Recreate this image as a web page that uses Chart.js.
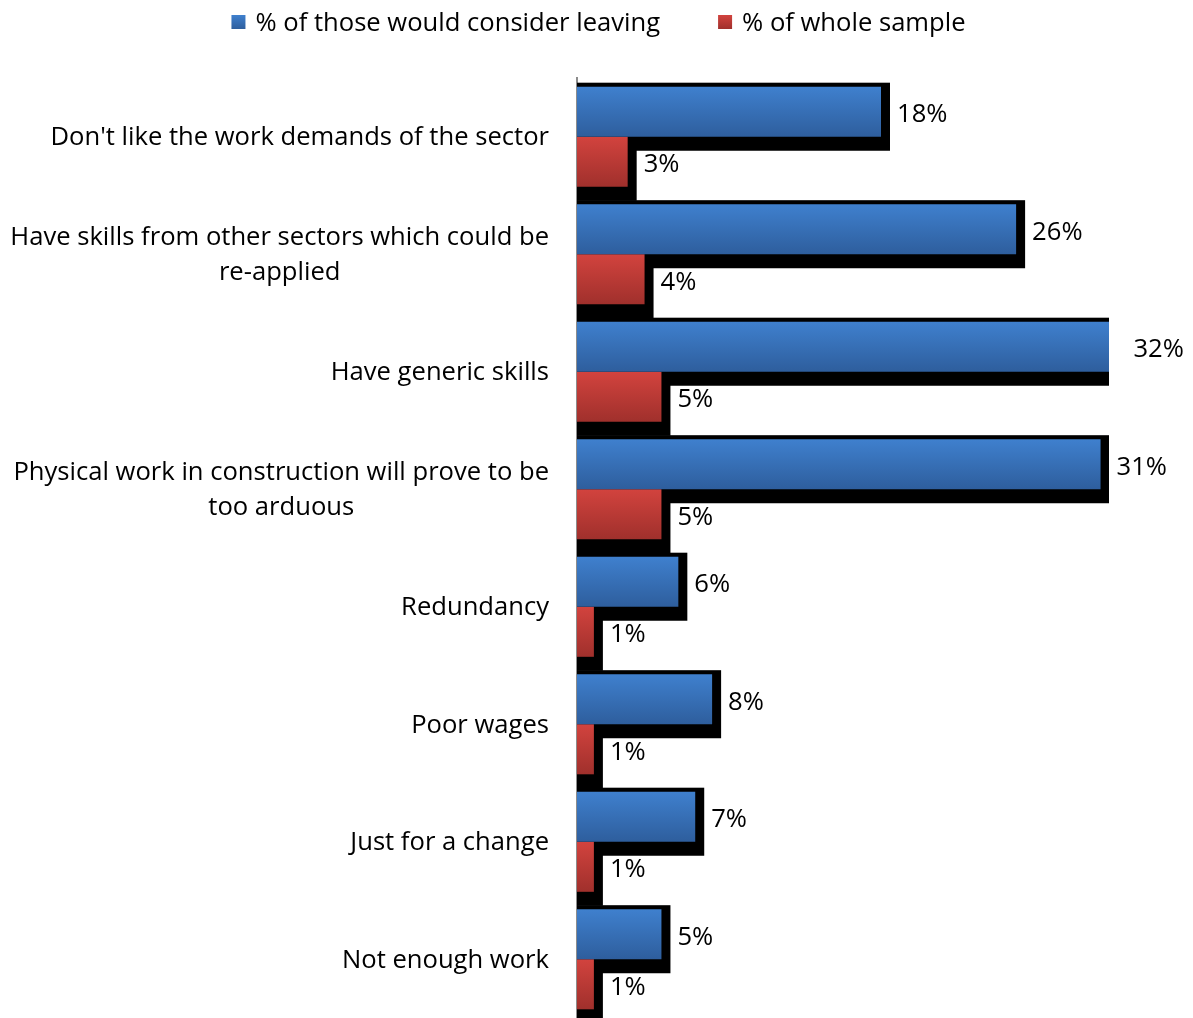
<!DOCTYPE html>
<html>
<head>
<meta charset="utf-8">
<script src="https://cdn.jsdelivr.net/npm/chart.js@4/dist/chart.umd.min.js"></script>
<style>
  html, body { margin: 0; padding: 0; background: #ffffff; overflow: hidden; }
  #wrap { width: 1193px; height: 1018px; position: relative; }
</style>
</head>
<body>
<div id="wrap"><canvas id="chart" width="1193" height="1018"></canvas></div>
<script>
// Reasons for considering leaving the sector (percentages)
const categories = [
  ["Don't like the work demands of the sector"],
  ["Have skills from other sectors which could be", "re-applied"],
  ["Have generic skills"],
  ["Physical work in construction will prove to be", "too arduous"],
  ["Redundancy"],
  ["Poor wages"],
  ["Just for a change"],
  ["Not enough work"]
];
const seriesNames = ["% of those would consider leaving", "% of whole sample"];
const considerLeaving = [18, 26, 32, 31, 6, 8, 7, 5];
const wholeSample = [3, 4, 5, 5, 1, 1, 1, 1];
const valueAxisMax = 31.5;

const FONT = "'Open Sans', 'DejaVu Sans', sans-serif";
const FONT_SIZE = 25.6;
const CAT_PCT = 0.852;

const palettes = [
  ['#3f80ce', '#2e5e9d'],
  ['#d2433e', '#a0302c']
];

// Vertical gradient for one bar, positioned from the category scale.
function barGradient(c) {
  const stops = palettes[c.datasetIndex] || palettes[0];
  const chart = c.chart;
  const ys = chart.scales && chart.scales.y;
  if (c.type !== 'data' || !ys || !chart.chartArea) return stops[0];
  const band = Math.abs(ys.getPixelForValue(1) - ys.getPixelForValue(0));
  const thick = band * CAT_PCT / 2;
  const mid = ys.getPixelForValue(c.dataIndex);
  const top = c.datasetIndex === 0 ? mid - thick : mid;
  const g = chart.ctx.createLinearGradient(0, top, 0, top + thick);
  g.addColorStop(0, stops[0]);
  g.addColorStop(1, stops[1]);
  return g;
}

const decor = {
  id: 'decor',
  beforeDatasetsDraw(chart) {
    // black drop shadows behind every bar
    const ctx = chart.ctx;
    const area = chart.chartArea;
    ctx.save();
    ctx.beginPath();
    ctx.rect(area.left, 0, area.right - area.left, chart.height);
    ctx.clip();
    ctx.fillStyle = '#000000';
    chart.data.datasets.forEach((ds, di) => {
      const meta = chart.getDatasetMeta(di);
      meta.data.forEach(el => {
        const p = el.getProps(['x', 'y', 'base', 'height'], true);
        const left = Math.min(p.base, p.x);
        const right = Math.max(p.base, p.x) + 9;
        const top = p.y - p.height / 2 - 4;
        const bottom = p.y + p.height / 2 + 14;
        ctx.fillRect(left, top, right - left, bottom - top);
      });
    });
    ctx.restore();
  },
  afterDatasetsDraw(chart) {
    // value labels to the right of each bar
    const ctx = chart.ctx;
    ctx.save();
    ctx.font = FONT_SIZE + 'px ' + FONT;
    ctx.fillStyle = '#000000';
    ctx.textAlign = 'left';
    ctx.textBaseline = 'middle';
    chart.data.datasets.forEach((ds, di) => {
      const meta = chart.getDatasetMeta(di);
      meta.data.forEach((el, i) => {
        const p = el.getProps(['x', 'y'], true);
        ctx.fillText(ds.data[i] + '%', p.x + 16, p.y + 3);
      });
    });
    ctx.restore();
  },
  afterDraw(chart) {
    const ctx = chart.ctx;
    const ys = chart.scales.y;
    ctx.save();
    ctx.font = FONT_SIZE + 'px ' + FONT;
    ctx.fillStyle = '#000000';
    ctx.textBaseline = 'middle';
    ctx.textAlign = 'center';
    // category labels: block right-aligned to the axis, lines centred inside the block
    const rightEdge = ys.right - 28;
    const lineH = 35;
    chart.data.labels.forEach((lines, i) => {
      const yc = ys.getPixelForValue(i);
      const w = Math.max(...lines.map(t => ctx.measureText(t).width));
      const cx = rightEdge - w / 2;
      lines.forEach((t, k) => {
        ctx.fillText(t, cx, yc + 1 + (k - (lines.length - 1) / 2) * lineH);
      });
    });
    // legend
    const box = 14, gapText = 10, gapItem = 58;
    const widths = chart.data.datasets.map(ds => ctx.measureText(ds.label).width);
    let total = 0;
    widths.forEach((w, i) => { total += box + gapText + w + (i ? gapItem : 0); });
    let x = chart.width / 2 - total / 2 + 2;
    const ly = 22;
    ctx.textAlign = 'left';
    chart.data.datasets.forEach((ds, i) => {
      const stops = palettes[i];
      const g = ctx.createLinearGradient(0, ly - box / 2, 0, ly + box / 2);
      g.addColorStop(0, stops[0]);
      g.addColorStop(1, stops[1]);
      ctx.fillStyle = g;
      ctx.fillRect(x, ly - box / 2, box, box);
      ctx.fillStyle = '#000000';
      ctx.fillText(ds.label, x + box + gapText, ly + 2);
      x += box + gapText + widths[i] + gapItem;
    });
    ctx.restore();
  }
};

new Chart(document.getElementById('chart'), {
  type: 'bar',
  data: {
    labels: categories,
    datasets: [
      { label: seriesNames[0], data: considerLeaving, backgroundColor: barGradient, clip: 0 },
      { label: seriesNames[1], data: wholeSample, backgroundColor: barGradient, clip: 0 }
    ]
  },
  options: {
    indexAxis: 'y',
    responsive: false,
    devicePixelRatio: 1,
    animation: false,
    events: [],
    categoryPercentage: CAT_PCT,
    barPercentage: 1,
    layout: { padding: { left: 0, right: 84, top: 78, bottom: 0 } },
    plugins: { legend: { display: false }, tooltip: { enabled: false } },
    scales: {
      x: { display: false, min: 0, max: valueAxisMax },
      y: {
        ticks: { display: false },
        grid: { display: false },
        border: { display: true, color: '#8c8c8c', width: 2 },
        afterFit(scale) { scale.width = 577; }
      }
    }
  },
  plugins: [decor]
});
</script>
</body>
</html>
